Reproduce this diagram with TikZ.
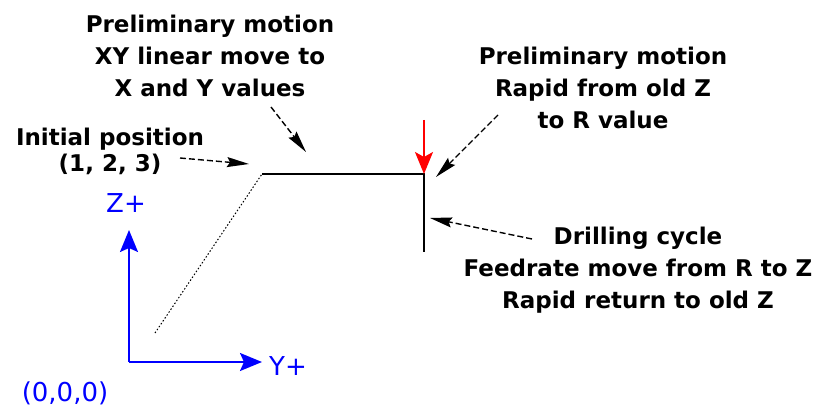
\documentclass[tikz,border=0pt]{standalone}
\usepackage{fontspec}
\setmainfont{DejaVu Sans}
\usetikzlibrary{arrows.meta}
\begin{document}
\begin{tikzpicture}[x=1pt,y=-1pt,
  lbl/.style={font=\fontsize{23}{32}\selectfont\bfseries, align=center, inner sep=0pt},
  axl/.style={font=\fontsize{26}{30}\selectfont, text=blue, inner sep=0pt},
  ptr/.style={-{Stealth[length=22pt,width=10pt,inset=3pt]}, black, line width=1.4pt, dash pattern=on 6pt off 3pt},
  pathline/.style={black, line width=1.6pt},
  axis/.style={blue, line width=2pt},
  axtip/.style={-{Stealth[length=22pt,width=18pt,inset=4pt]}}]
\useasboundingbox (0,0) rectangle (817,411);

% text labels
\node[lbl] (t1) at (210,56) {Preliminary motion\\XY linear move to\\X and Y values};
\node[lbl] (t2) at (603,88) {Preliminary motion\\Rapid from old Z\\to R value};
\node[lbl, font=\fontsize{23}{26}\selectfont\bfseries] (t3) at (110,151) {Initial position\\(1, 2, 3)};
\node[lbl] (t4) at (638,270) {Drilling cycle\\Feedrate move from R to Z\\Rapid return to old Z};

% path points
\coordinate (C) at (262,174);
\coordinate (D) at (424,174);
\coordinate (E) at (424,252);
\coordinate (S) at (155,333);
\coordinate (R0) at (424,120);
\coordinate (Rt) at (424,174);

\draw[pathline] (C) -- (D) -- (E);
\draw[black, line width=1pt, dash pattern=on 1.5pt off 2pt] (S) -- (C);
\draw[red, line width=1.6pt, -{Stealth[length=22pt,width=18pt,inset=5pt]}] (R0) -- (Rt);

% pointer arrows
\coordinate (p1s) at (180,158);
\coordinate (p1e) at (249,164);
\draw[ptr] (p1s) -- (p1e);
\coordinate (p2s) at (271,107);
\coordinate (p2e) at (306,152);
\draw[ptr] (p2s) -- (p2e);
\coordinate (p3s) at (498,115);
\coordinate (p3e) at (436,177);
\draw[ptr] (p3s) -- (p3e);
\coordinate (p4s) at (532,239);
\coordinate (p4e) at (430,218);
\draw[ptr] (p4s) -- (p4e);

% axes
\coordinate (O) at (129,362);
\coordinate (Zt) at (129,230);
\coordinate (Yt) at (262,362);
\draw[axis, axtip] (O) -- (Zt);
\draw[axis, axtip] (O) -- (Yt);
\node[axl] (zl) at (126,203) {Z+};
\node[axl] (yl) at (288,366) {Y+};
\node[axl] (ol) at (65,393) {(0,0,0)};
\end{tikzpicture}
\end{document}
